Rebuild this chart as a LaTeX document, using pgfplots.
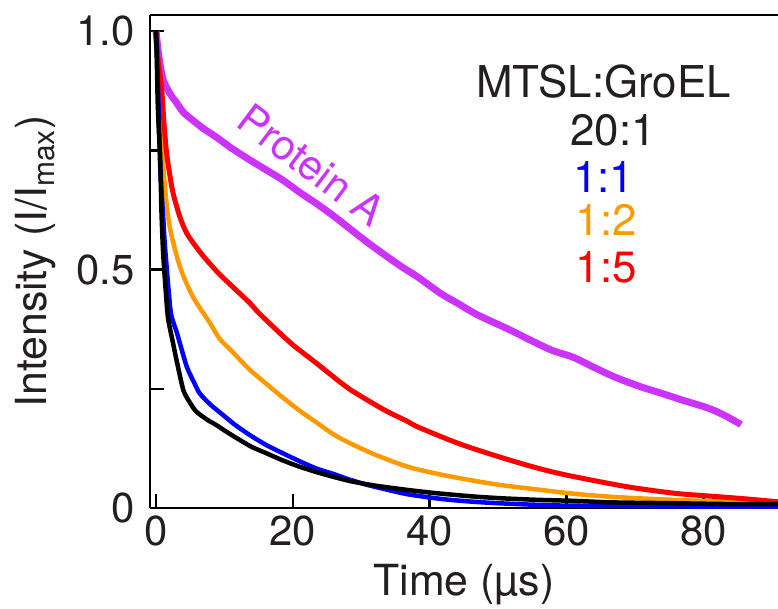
\documentclass[border=0pt]{standalone}
\usepackage{pgfplots}
\pgfplotsset{compat=1.18}
\usepackage{fontspec}
\setmainfont{TeX Gyre Heros}
\definecolor{pa}{RGB}{204,51,255}
\definecolor{orng}{RGB}{255,153,0}
\definecolor{txt}{RGB}{35,31,32}
\begin{document}
\begin{tikzpicture}
\path[use as bounding box] (-150bp,-101bp) rectangle (628bp,508bp);
\begin{axis}[
  at={(0,0)}, anchor=south west,
  width=628bp, height=493bp, scale only axis,
  xmin=-0.88, xmax=90.9, ymin=0, ymax=1.034,
  axis y line*=left, axis x line*=box,
  xtick={0,20,40,60,80}, xtick pos=bottom,
  ytick={0,0.5,1}, yticklabels={0,0.5,1.0},
  minor ytick={0.25,0.75}, ytick pos=left,
  tick align=inside,
  major tick length=14bp, minor tick length=14bp,
  every tick/.style={line width=2.5bp, black},
  axis line style={line width=2.5bp, black},
  /pgf/number format/assume math mode=true,
  ticklabel style={font=\fontsize{42}{50}\selectfont, text=txt},
  xticklabel style={yshift=-4bp},
  yticklabel style={xshift=-12bp},
  xlabel={Time (µs)},
  ylabel={Intensity (I/I\textsubscript{max})},
  every axis x label/.style={at={(axis description cs:0.5,0)}, anchor=base, yshift=-87bp,
     font=\fontsize{43}{50}\selectfont, text=txt},
  every axis y label/.style={at={(axis description cs:-0.182,0.5)}, anchor=center, rotate=90,
     font=\fontsize{43}{50}\selectfont, text=txt},
  clip=true,
]
% Protein A
\addplot[pa, line width=7bp, smooth, tension=0.5] coordinates {
(0,1.0) (0.3,0.96) (0.6,0.93) (1.07,0.897) (2,0.87) (3,0.85) (4,0.83) (5.4,0.813) (7,0.795) (8.8,0.778)
(11,0.755) (13.7,0.73) (16,0.71) (18.5,0.688) (21,0.662) (23.4,0.639) (26,0.612) (28.4,0.585) (31,0.556)
(33.5,0.53) (36,0.505) (38.2,0.485) (41.6,0.45) (44,0.43) (47,0.405) (51.5,0.375) (55,0.35) (58,0.33)
(61,0.316) (64,0.295) (67,0.275) (70.9,0.254) (74,0.24) (77,0.226) (80.6,0.21) (83,0.195) (85.5,0.175)
};
% 1:2
\addplot[orng, line width=4.5bp, smooth, tension=0.5] coordinates {
(0,1.0) (0.3,0.9) (0.6,0.81) (1.3,0.674) (2.0,0.59) (3.5,0.506) (5.4,0.443) (7.8,0.39) (9.3,0.355)
(11,0.33) (13.7,0.29) (16,0.262) (18.5,0.232) (21,0.204) (23.4,0.18) (26,0.154) (28.2,0.137) (32,0.112)
(36.7,0.087) (41,0.072) (46.5,0.057) (51,0.047) (56.2,0.038) (61,0.03) (66,0.024) (71,0.02) (75.7,0.017)
(80,0.015) (85,0.014) (90.9,0.012)
};
% 1:5
\addplot[red, line width=5bp, smooth, tension=0.5] coordinates {
(0,1.0) (0.3,0.94) (0.8,0.883) (1.2,0.80) (1.55,0.744) (2.0,0.70) (2.5,0.66) (3.5,0.61) (4.5,0.576)
(6,0.545) (7.4,0.52) (9.3,0.49) (11.2,0.464) (13.7,0.43) (15.1,0.408) (18.6,0.36) (20,0.342) (23.5,0.303)
(26.9,0.264) (28.4,0.248) (33.2,0.207) (36.7,0.182) (38.1,0.171) (43,0.142) (46.5,0.124) (51.8,0.1)
(56.2,0.082) (60,0.069) (66,0.052) (70,0.042) (75.7,0.031) (80,0.026) (85.5,0.02) (90.9,0.013)
};
% 1:1
\addplot[blue, line width=4.5bp, smooth, tension=0.4] coordinates {
(0,1.0) (0.3,0.88) (0.6,0.72) (1.07,0.604) (1.3,0.55) (2.0,0.43) (2.3,0.40) (3.0,0.37) (3.5,0.345)
(4.5,0.296) (5.5,0.265) (6.4,0.24) (8.1,0.215) (9.8,0.195) (11.5,0.175) (13.7,0.153) (16,0.133)
(18.5,0.115) (21,0.098) (23.4,0.083) (26,0.071) (28.2,0.06) (31,0.048) (34.5,0.036) (36.7,0.029)
(40,0.022) (43,0.017) (46.5,0.013) (50,0.01) (55,0.007) (60,0.005) (70,0.004) (80,0.003) (90.9,0.003)
};
% 20:1
\addplot[black, line width=4.5bp, smooth, tension=0.4] coordinates {
(0,1.0) (0.1,0.95) (0.25,0.85) (0.45,0.78) (0.6,0.74) (0.8,0.62) (1.06,0.53) (1.55,0.43) (1.8,0.394)
(2.5,0.345) (3.0,0.31) (4.0,0.247) (5.0,0.22) (5.9,0.202) (7.5,0.185) (8.8,0.174) (10.5,0.158)
(12.2,0.143) (14,0.128) (16.1,0.115) (18.5,0.10) (20.9,0.087) (24,0.073) (28.2,0.057) (32,0.047)
(36.7,0.038) (41,0.031) (46.5,0.024) (51,0.02) (56,0.017) (61,0.015) (66,0.012) (70,0.011) (75.7,0.01)
(80,0.009) (85,0.008) (90.9,0.008)
};
\node[font=\fontsize{42}{50}\selectfont, text=pa, rotate=-37] at (axis cs:22.7,0.72) {Protein A};
\node[font=\fontsize{44}{52}\selectfont, text=txt, anchor=base] at (axis cs:65.4,0.862) {MTSL:GroEL};
\node[font=\fontsize{44}{52}\selectfont, text=txt, anchor=base] at (axis cs:66.8,0.761) {20:1};
\node[font=\fontsize{44}{52}\selectfont, text=blue, anchor=base] at (axis cs:65.4,0.662) {1:1};
\node[font=\fontsize{44}{52}\selectfont, text=orng, anchor=base] at (axis cs:65.8,0.572) {1:2};
\node[font=\fontsize{44}{52}\selectfont, text=red, anchor=base] at (axis cs:65.8,0.474) {1:5};
\end{axis}
\end{tikzpicture}
\end{document}
